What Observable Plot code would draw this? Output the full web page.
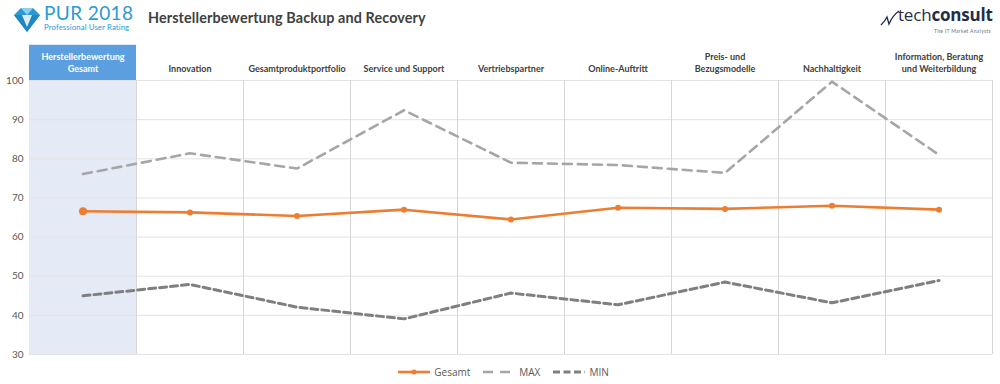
<!DOCTYPE html>
<html>
<head>
<meta charset="utf-8">
<script src="https://cdn.jsdelivr.net/npm/d3@7"></script>
<script src="https://cdn.jsdelivr.net/npm/@observablehq/plot@0.6"></script>
<style>
  html, body { margin: 0; padding: 0; background: #fff; }
  #wrap { position: relative; width: 1000px; height: 384px; overflow: hidden; font-family: Lato, "Open Sans", sans-serif; }
  #chart { position: absolute; left: 0; top: 0; }
  .title { position: absolute; left: 148px; top: 9px; font-size: 14.4px; font-weight: bold; color: #404040; letter-spacing: 0.1px; }
  .pur { position: absolute; left: 12px; top: 1px; }
  .pur .big { position: absolute; left: 32px; top: 0px; font-size: 19px; line-height: 23px; color: #2b9ad3; font-family: Lato, sans-serif; white-space: nowrap; letter-spacing: 0.4px; }
  .pur .small { position: absolute; left: 32px; top: 22px; font-size: 7.8px; line-height: 9.5px; color: #2b9ad3; white-space: nowrap; font-family: Lato, sans-serif; letter-spacing: 0.1px; }
  .tc { position: absolute; left: 878px; top: 5px; width: 120px; }
  .tc .name { position: absolute; left: 20px; top: 0px; font-size: 17px; line-height: 20px; color: #1f2d4a; font-family: "Open Sans", sans-serif; white-space: nowrap; letter-spacing: -0.2px; }
  .tc .name b { font-weight: 700; }
  .tc .sub { position: absolute; left: 56px; top: 23px; font-size: 5px; line-height: 6px; color: #6a7388; white-space: nowrap; letter-spacing: 0.3px; }
  .legend { position: absolute; top: 365px; left: 3px; width: 1000px; display: flex; justify-content: center; gap: 12px; font-size: 10px; color: #595959; align-items: center; font-family: "Open Sans", sans-serif; }
  .legend .item { display: flex; align-items: center; gap: 3px; }
</style>
</head>
<body>
<div id="wrap">
  <div id="chart"></div>
  <div class="pur">
    <svg width="30" height="30" viewBox="0 0 30 30" style="position:absolute;left:0;top:4px">
      <polygon points="2,10 9,3 21,3 28,10 15,27" fill="#2b9ad3"/>
      <polygon points="9,3 15,10 21,3" fill="#8fd0ef"/>
      <polygon points="2,10 28,10 15,27" fill="#1f88c2"/>
      <polygon points="10,10 20,10 15,22" fill="#ffffff" opacity="0.85"/>
    </svg>
    <div class="big">PUR 2018</div>
    <div class="small">Professional User Rating</div>
  </div>
  <div class="title">Herstellerbewertung Backup and Recovery</div>
  <div class="tc">
    <svg width="20" height="20" viewBox="0 0 20 20" style="position:absolute;left:2px;top:4px">
      <path d="M1,16 Q5,12 7,8 L9,15 Q13,6 19,2" fill="none" stroke="#1f2d4a" stroke-width="1.3"/>
    </svg>
    <div class="name">tech<b>consult</b></div>
    <div class="sub">The IT Market Analysts</div>
  </div>
  <div class="legend" id="legend"></div>
</div>
<script>
// ---- data ----
const categories = [
  "Herstellerbewertung\nGesamt",
  "Innovation",
  "Gesamtproduktportfolio",
  "Service und Support",
  "Vertriebspartner",
  "Online-Auftritt",
  "Preis- und\nBezugsmodelle",
  "Nachhaltigkeit",
  "Information, Beratung\nund Weiterbildung"
];
const gesamt = [66.6, 66.3, 65.4, 67.0, 64.5, 67.5, 67.2, 68.0, 67.0];
const maxValues = [76.1, 81.4, 77.5, 92.4, 79.0, 78.4, 76.4, 99.7, 81.0];
const minValues = [45.0, 47.9, 42.1, 39.1, 45.7, 42.7, 48.5, 43.2, 48.9];
const yTicks = [30, 40, 50, 60, 70, 80, 90, 100];
const seriesNames = ["Gesamt", "MAX", "MIN"];

// ---- build ----
const idx = categories.map((_, i) => i);
const rows = (vals, s) => vals.map((v, i) => ({i, v, s}));
const gRows = rows(gesamt, "Gesamt");
const maxRows = rows(maxValues, "MAX");
const minRows = rows(minValues, "MIN");
const boundaries = idx.slice(0, -1).map(i => i + 0.5).concat([categories.length - 0.5]);

const colors = {Gesamt: "#ed7d31", MAX: "#a6a6a6", MIN: "#7f7f7f"};
const yMin = d3.min(yTicks), yMax = d3.max(yTicks);
const headerTop = yMax + 9;

const plot = Plot.plot({
  width: 1000,
  height: 384,
  marginTop: 80,
  marginBottom: 30,
  marginLeft: 29,
  marginRight: 8,
  x: {type: "linear", domain: [-0.5, categories.length - 0.5], axis: null, label: null},
  y: {domain: [yMin, yMax], axis: null, label: null},
  style: {fontFamily: "Lato, 'Open Sans', sans-serif", background: "#fff"},
  marks: [
    // highlighted first column
    Plot.rectY([0], {x1: d => d - 0.5, x2: d => d + 0.5, y1: yMin, y2: yMax, fill: "#e4eaf6"}),
    Plot.rectY([0], {x1: d => d - 0.5, x2: d => d + 0.5, y1: yMax, y2: headerTop, fill: "#5b9fe0"}),
    Plot.gridY(yTicks, {stroke: "#e3e3e3", strokeOpacity: 1, strokeWidth: 1}),
    Plot.ruleX(boundaries, {y1: yMin, y2: yMax, stroke: "#d6d6d6", strokeWidth: 1}),
    Plot.axisY(yTicks, {tickSize: 0, tickPadding: 6, fontSize: 10, fill: "#595959", anchor: "left", label: null}),
    Plot.line(maxRows, {x: "i", y: "v", stroke: colors.MAX, strokeWidth: 2.6, strokeDasharray: "9,6"}),
    Plot.line(minRows, {x: "i", y: "v", stroke: colors.MIN, strokeWidth: 3, strokeDasharray: "7,4"}),
    Plot.line(gRows, {x: "i", y: "v", stroke: colors.Gesamt, strokeWidth: 2.6}),
    Plot.dot(gRows, {x: "i", y: "v", fill: colors.Gesamt, r: d => d.i === 0 ? 4.5 : 2.5, stroke: "none"}),
    Plot.text(idx, {
      x: d => d, y: yMax, text: d => categories[d], dy: -9,
      lineAnchor: "bottom", fontSize: 9, fontWeight: "bold", lineHeight: 1.3,
      fill: d => d === 0 ? "#ffffff" : "#404040"
    })
  ]
});
document.getElementById("chart").appendChild(plot);

// legend
const legend = document.getElementById("legend");
seriesNames.forEach(name => {
  const item = document.createElement("div");
  item.className = "item";
  const dash = name === "MAX" ? "10,7" : name === "MIN" ? "7,3.5" : null;
  item.innerHTML = `<svg width="34" height="10"><line x1="1" x2="33" y1="5" y2="5" stroke="${colors[name]}" stroke-width="${name === "MIN" ? 3 : 2.6}" ${dash ? `stroke-dasharray="${dash}"` : ""}/>${name === "Gesamt" ? `<circle cx="17" cy="5" r="2.5" fill="${colors[name]}"/>` : ""}</svg><span>${name}</span>`;
  legend.appendChild(item);
});
</script>
</body>
</html>
